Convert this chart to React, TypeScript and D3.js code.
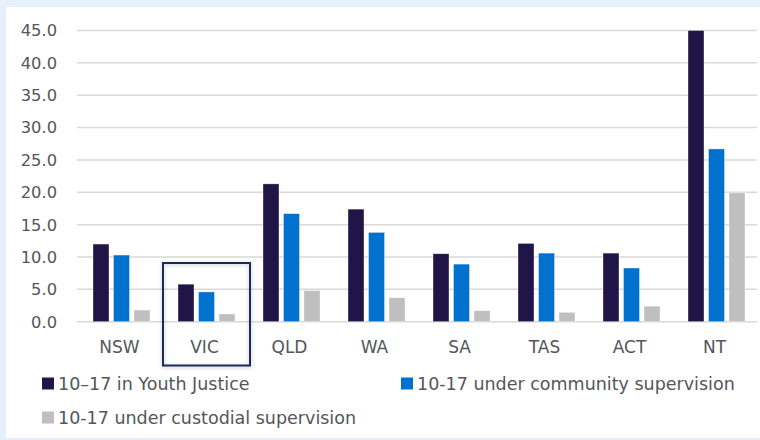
import { useEffect, useRef } from 'react';
import * as d3 from 'd3';

const states = ['NSW', 'VIC', 'QLD', 'WA', 'SA', 'TAS', 'ACT', 'NT'];
const youthJustice = [12.0, 5.8, 21.3, 17.4, 10.5, 12.1, 10.6, 45.0];
const community = [10.3, 4.6, 16.7, 13.8, 8.9, 10.6, 8.3, 26.7];
const custodial = [1.8, 1.2, 4.8, 3.7, 1.7, 1.45, 2.4, 19.9];
const seriesNames = [
  '10–17 in Youth Justice',
  '10-17 under community supervision',
  '10-17 under custodial supervision',
];
const yTicks = [0, 5, 10, 15, 20, 25, 30, 35, 40, 45];
const highlight = 'VIC';

const colors = ['#201547', '#0072CE', '#BFBFBF'];
const textColor = '#53565A';
const font = '"DejaVu Sans", sans-serif';

export default function App() {
  const svgRef = useRef<SVGSVGElement>(null);

  useEffect(() => {
    if (!svgRef.current) return;
    const svg = d3.select(svgRef.current);
    svg.selectAll('*').remove();

    const width = 760;
    const height = 440;

    svg.append('rect').attr('width', width).attr('height', height).attr('fill', '#E6F0FA');
    svg.append('rect').attr('x', 6).attr('y', 7).attr('width', width - 6).attr('height', 431).attr('fill', '#fff');

    const x0 = d3.scaleBand<string>().domain(states).range([77, 757]).padding(0);
    const y = d3.scaleLinear().domain([0, 45]).range([321.7, 30.5]).clamp(true);
    const x1 = d3.scaleBand<number>().domain([0, 1, 2]).range([-26.5, 30.5]).paddingInner(0.22).paddingOuter(0);

    // grid
    svg.append('g')
      .selectAll('line')
      .data(yTicks)
      .join('line')
      .attr('x1', 77)
      .attr('x2', 757)
      .attr('y1', (d) => y(d))
      .attr('y2', (d) => y(d))
      .attr('stroke', '#D9D9D9')
      .attr('stroke-width', 1.5);

    svg.append('g')
      .selectAll('text')
      .data(yTicks)
      .join('text')
      .attr('x', 57)
      .attr('y', (d) => y(d))
      .attr('dy', '0.36em')
      .attr('text-anchor', 'end')
      .attr('font-family', font)
      .attr('font-size', 16.3)
      .attr('fill', textColor)
      .text((d) => d.toFixed(1));

    const series = [youthJustice, community, custodial];
    const groups = svg.append('g')
      .selectAll('g')
      .data(states)
      .join('g')
      .attr('transform', (d) => `translate(${(x0(d) ?? 0) + x0.bandwidth() / 2},0)`);

    groups
      .selectAll('rect')
      .data((_, i) => series.map((s, k) => ({ k, v: s[i] })))
      .join('rect')
      .attr('x', (d) => x1(d.k) ?? 0)
      .attr('width', x1.bandwidth())
      .attr('y', (d) => y(d.v))
      .attr('height', (d) => y(0) - y(d.v))
      .attr('fill', (d) => colors[d.k])
      .attr('stroke', 'rgba(255,255,255,0.6)')
      .attr('stroke-width', 0.6);

    svg.append('g')
      .selectAll('text')
      .data(states)
      .join('text')
      .attr('x', (d) => (x0(d) ?? 0) + x0.bandwidth() / 2)
      .attr('y', 353)
      .attr('text-anchor', 'middle')
      .attr('font-family', font)
      .attr('font-size', 17)
      .attr('fill', textColor)
      .text((d) => d);

    // highlight box
    const defs = svg.append('defs');
    const f = defs.append('filter').attr('id', 'shadow').attr('x', '-20%').attr('y', '-20%').attr('width', '140%').attr('height', '140%');
    f.append('feDropShadow').attr('dx', 0).attr('dy', 1).attr('stdDeviation', 2).attr('flood-color', '#000').attr('flood-opacity', 0.25);
    const hx = x0(highlight) ?? 0;
    svg.append('rect')
      .attr('x', hx + 1)
      .attr('y', 263)
      .attr('width', x0.bandwidth() + 2)
      .attr('height', 102.5)
      .attr('fill', 'none')
      .attr('stroke', '#1B2A5C')
      .attr('stroke-width', 2)
      .attr('filter', 'url(#shadow)');

    // legend
    const legendPos = [
      [42, 383.5],
      [401, 383.5],
      [42, 417.5],
    ];
    const lg = svg.append('g')
      .selectAll('g')
      .data(seriesNames)
      .join('g')
      .attr('transform', (_, i) => `translate(${legendPos[i][0]},${legendPos[i][1]})`);
    lg.append('rect').attr('x', 0).attr('y', -6).attr('width', 12).attr('height', 12).attr('fill', (_, i) => colors[i]);
    lg.append('text')
      .attr('x', 16)
      .attr('y', 0)
      .attr('dy', '0.36em')
      .attr('font-family', font)
      .attr('font-size', 17.5)
      .attr('fill', textColor)
      .text((d) => d);
  }, []);

  return (
    <svg
      ref={svgRef}
      width={760}
      height={440}
      style={{ position: 'absolute', left: 0, top: 0, display: 'block' }}
    />
  );
}
